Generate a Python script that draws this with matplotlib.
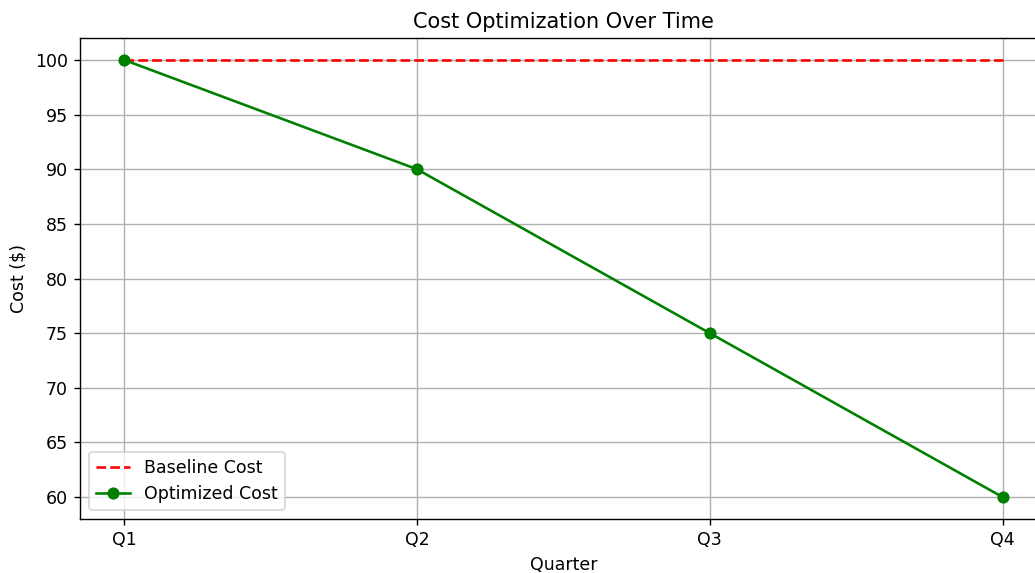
import matplotlib
matplotlib.use("Agg")
import matplotlib.pyplot as plt

# donnees
quarters = ["Q1", "Q2", "Q3", "Q4"]
baseline_cost = [100, 100, 100, 100]
optimized_cost = [100, 90, 75, 60]

fig = plt.figure(figsize=(8.28, 4.584), dpi=125)
ax = fig.add_axes([0.0773, 0.0942, 0.934, 0.8395])

ax.plot(quarters, baseline_cost, "r--", label="Baseline Cost")
ax.plot(quarters, optimized_cost, color="green", marker="o", label="Optimized Cost")

ax.set_title("Cost Optimization Over Time")
ax.set_xlabel("Quarter")
ax.set_ylabel("Cost ($)")
ax.legend(loc="lower left")
ax.grid(True)

fig.savefig("out.png", dpi=125)
